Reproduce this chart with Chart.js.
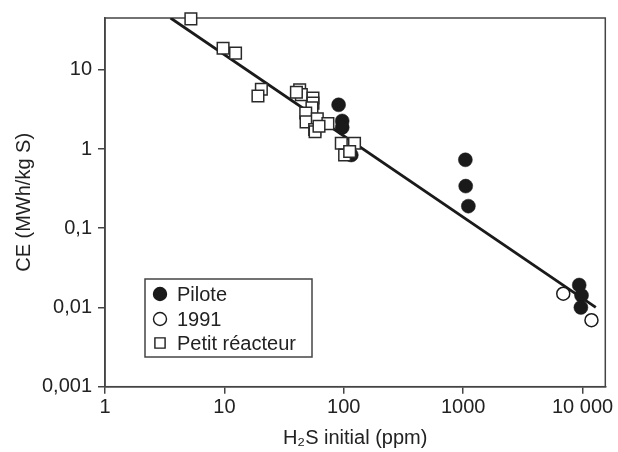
<!DOCTYPE html>
<html>
<head>
<meta charset="utf-8">
<script src="https://cdn.jsdelivr.net/npm/chart.js@4.4.1/dist/chart.umd.min.js"></script>
<style>
  html, body { margin: 0; padding: 0; background: #fff; }
  #wrap { width: 618px; height: 452px; }
</style>
</head>
<body>
<div id="wrap"><canvas id="chart" width="618" height="452"></canvas></div>
<script>
// Données (échelles log-log)
const pilotX = [90.5, 97, 97, 115.6, 1043, 1050, 1105, 9370, 9800, 9680];
const pilotY = [3.61, 2.26, 1.87, 0.84, 0.73, 0.34, 0.19, 0.0192, 0.0142, 0.0100];

const y1991X = [6890, 11870];
const y1991Y = [0.0149, 0.0069];

const petitX = [5.24, 9.75, 12.4, 20.4, 19.1, 42.7, 44.1, 40.1, 55.2, 55.2, 54.1, 48, 48.3, 60, 73.6, 57, 57.5, 62, 95.3, 123, 101.6, 112];
const petitY = [43.9, 18.7, 16.2, 5.67, 4.67, 5.6, 4.85, 5.2, 4.41, 3.79, 3.31, 2.84, 2.2, 2.41, 2.09, 1.76, 1.65, 1.94, 1.18, 1.18, 0.84, 0.93];

// droite de régression (extrémités)
const fitX = [3.54, 12900];
const fitY = [45, 0.01];

const xTicks = [1, 10, 100, 1000, 10000];
const xTickLabels = ['1', '10', '100', '1000', '10 000'];
const yTicks = [0.001, 0.01, 0.1, 1, 10];
const yTickLabels = ['0,001', '0,01', '0,1', '1', '10'];

const seriesNames = ['Pilote', '1991', 'Petit réacteur'];

const FONT = '"Liberation Sans", Arial, Helvetica, sans-serif';
const INK = '#222';
const AXIS = '#444';

function toPoints(xs, ys) {
    return xs.map((x, i) => ({ x: x, y: ys[i] }));
}

// cadre autour de la zone de tracé
const framePlugin = {
    id: 'frame',
    beforeDatasetsDraw(chart) {
        const { ctx, chartArea: a } = chart;
        ctx.save();
        ctx.strokeStyle = AXIS;
        ctx.lineWidth = 1.5;
        ctx.strokeRect(a.left, a.top, a.right - a.left, a.bottom - a.top);
        ctx.restore();
    }
};

// légende encadrée dans la zone de tracé
const boxLegend = {
    id: 'boxLegend',
    afterDraw(chart) {
        const ctx = chart.ctx;
        const bx = 145, by = 279, bw = 167, bh = 78;
        ctx.save();
        ctx.fillStyle = '#fff';
        ctx.fillRect(bx, by, bw, bh);
        ctx.strokeStyle = AXIS;
        ctx.lineWidth = 1.5;
        ctx.strokeRect(bx, by, bw, bh);
        const rows = [294, 319, 343];
        const styles = [
            { pointStyle: 'circle', radius: 6.5, fill: '#1a1a1a', stroke: '#1a1a1a' },
            { pointStyle: 'circle', radius: 6.5, fill: '#fff', stroke: '#1a1a1a' },
            { pointStyle: 'rect', radius: 7.2, fill: '#fff', stroke: '#1a1a1a' }
        ];
        ctx.font = '20px ' + FONT;
        ctx.textBaseline = 'middle';
        rows.forEach((y, i) => {
            const s = styles[i];
            ctx.fillStyle = s.fill;
            ctx.strokeStyle = s.stroke;
            ctx.lineWidth = 1.4;
            Chart.helpers.drawPoint(ctx, { pointStyle: s.pointStyle, radius: s.radius, borderWidth: 1.4 }, 160, y);
            ctx.fillStyle = INK;
            ctx.fillText(seriesNames[i], 177, y + 1);
        });
        ctx.restore();
    }
};

const ctx = document.getElementById('chart').getContext('2d');
const chart = new Chart(ctx, {
    type: 'scatter',
    data: {
        datasets: [
            {
                label: seriesNames[2],
                data: toPoints(petitX, petitY),
                pointStyle: 'rect',
                pointRadius: 8.2,
                backgroundColor: '#fff',
                borderColor: '#2a2a2a',
                borderWidth: 1.5,
                clip: false,
                order: 1
            },
            {
                label: seriesNames[1],
                data: toPoints(y1991X, y1991Y),
                pointStyle: 'circle',
                pointRadius: 6.5,
                backgroundColor: '#fff',
                borderColor: '#1a1a1a',
                borderWidth: 1.5,
                clip: false,
                order: 2
            },
            {
                label: seriesNames[0],
                data: toPoints(pilotX, pilotY),
                pointStyle: 'circle',
                pointRadius: 7,
                backgroundColor: '#1a1a1a',
                borderColor: '#1a1a1a',
                borderWidth: 0.5,
                clip: false,
                order: 3
            },
            {
                label: 'fit',
                type: 'line',
                data: toPoints(fitX, fitY),
                showLine: true,
                pointRadius: 0,
                borderColor: '#1a1a1a',
                borderWidth: 2.8,
                fill: false,
                order: 4
            }
        ]
    },
    options: {
        responsive: false,
        animation: false,
        devicePixelRatio: 1,
        layout: { padding: { top: 11.7, right: 12.7, left: 0, bottom: 0 } },
        plugins: {
            legend: { display: false },
            tooltip: { enabled: false }
        },
        scales: {
            x: {
                type: 'logarithmic',
                min: 1,
                max: 15500,
                afterFit(scale) { scale.height = 65.3; },
                afterBuildTicks(scale) { scale.ticks = xTicks.map(v => ({ value: v })); },
                ticks: {
                    autoSkip: false,
                    maxRotation: 0,
                    padding: 2,
                    color: INK,
                    font: { family: FONT, size: 20 },
                    callback: (v, i) => xTickLabels[i]
                },
                grid: { drawOnChartArea: false, drawTicks: true, tickLength: 7, color: AXIS, lineWidth: 1.5 },
                border: { display: true, color: AXIS, width: 1.5 },
                title: {
                    display: true,
                    text: 'H₂S initial (ppm)',
                    color: INK,
                    font: { family: FONT, size: 20 },
                    padding: { top: 0, bottom: 2 }
                }
            },
            y: {
                type: 'logarithmic',
                min: 0.001,
                max: 45,
                afterFit(scale) { scale.width = 105; },
                afterBuildTicks(scale) { scale.ticks = yTicks.map(v => ({ value: v })); },
                ticks: {
                    autoSkip: false,
                    padding: 6,
                    color: INK,
                    font: { family: FONT, size: 20 },
                    callback: (v, i) => yTickLabels[i]
                },
                grid: { drawOnChartArea: false, drawTicks: true, tickLength: 7, color: AXIS, lineWidth: 1.5 },
                border: { display: true, color: AXIS, width: 1.5 },
                title: {
                    display: true,
                    text: 'CE (MWh/kg S)',
                    color: INK,
                    font: { family: FONT, size: 20 },
                    padding: { top: 12, bottom: 0 }
                }
            }
        }
    },
    plugins: [framePlugin, boxLegend]
});
</script>
</body>
</html>
